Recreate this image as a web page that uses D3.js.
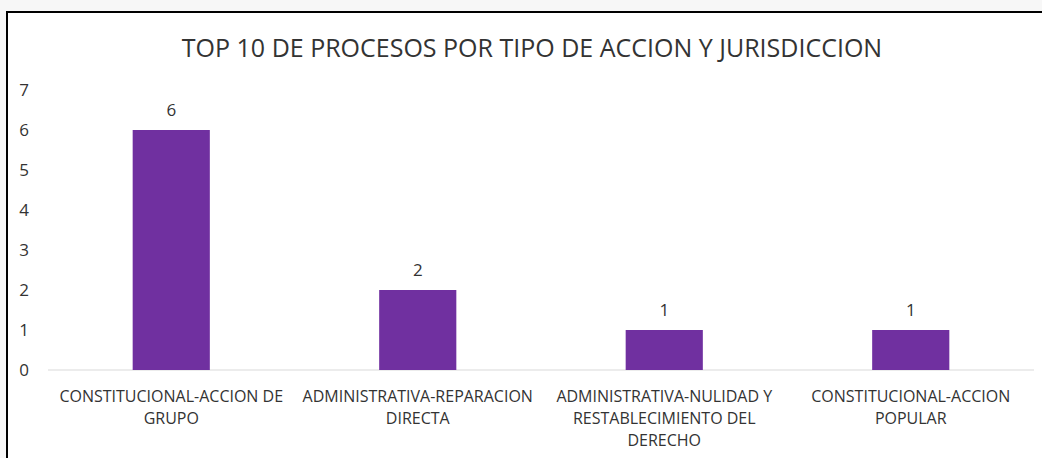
<!DOCTYPE html>
<html>
<head>
<meta charset="utf-8">
<script src="https://cdn.jsdelivr.net/npm/d3@7"></script>
<style>
body { margin: 0; background: #f7f7f7; }
svg { display: block; }
text { font-family: "Open Sans", sans-serif; fill: #333; }
</style>
</head>
<body>
<svg id="chart" width="1042" height="458"></svg>
<script>
const title = "TOP 10 DE PROCESOS POR TIPO DE ACCION Y JURISDICCION"
const categories = [
	"CONSTITUCIONAL-ACCION DE GRUPO",
	"ADMINISTRATIVA-REPARACION DIRECTA",
	"ADMINISTRATIVA-NULIDAD Y RESTABLECIMIENTO DEL DERECHO",
	"CONSTITUCIONAL-ACCION POPULAR"
]
const values = [6, 2, 1, 1]
const yTicks = [0, 1, 2, 3, 4, 5, 6, 7]

const W = 1042, H = 458
const svg = d3.select("#chart")

// white chart area with a dark frame on top and left
svg.append("rect").attr("x", 6).attr("y", 11).attr("width", W - 6).attr("height", H - 11).attr("fill", "#fff")
svg.append("path").attr("d", `M7,${H} V12 H${W}`).attr("fill", "none").attr("stroke", "#000").attr("stroke-width", 2)

const X = d3.scaleBand().domain(categories).range([48, 1034])
const Y = d3.scaleLinear().domain([0, 7]).range([370, 90])
const barW = X.bandwidth() * 0.313

svg.append("text")
	.attr("x", 532).attr("y", 57)
	.attr("text-anchor", "middle")
	.style("font-size", "25px")
	.text(title)

// y axis labels only, no line
const yAxis = svg.append("g").attr("transform", "translate(29,0)")
	.call(d3.axisLeft(Y).tickValues(yTicks).tickSize(0).tickPadding(0).tickFormat(d3.format("d")))
yAxis.select(".domain").remove()
yAxis.selectAll("text").style("font-size", "17px").attr("fill", "#333").attr("font-family", null)

svg.append("line")
	.attr("x1", 48).attr("x2", 1034)
	.attr("y1", Y(0)).attr("y2", Y(0))
	.attr("stroke", "#d9d9d9").attr("stroke-width", 1)

const bars = svg.append("g")
bars.selectAll("rect").data(values).enter().append("rect")
	.attr("x", (d, i) => X(categories[i]) + X.bandwidth() / 2 - barW / 2)
	.attr("y", d => Y(d))
	.attr("width", barW)
	.attr("height", d => Y(0) - Y(d))
	.attr("fill", "#7030a0")

bars.selectAll("text").data(values).enter().append("text")
	.attr("x", (d, i) => X(categories[i]) + X.bandwidth() / 2)
	.attr("y", d => Y(d) - 14)
	.attr("text-anchor", "middle")
	.style("font-size", "17px")
	.text(d => d)

// category labels, wrapped to the band width
const wrap = (sel, width) => {
	sel.each(function(d) {
		const t = d3.select(this)
		const words = d.split(" ")
		let line = []
		let ts = t.append("tspan").attr("x", t.attr("x")).attr("dy", 0)
		words.forEach(w => {
			line.push(w)
			ts.text(line.join(" "))
			if (ts.node().getComputedTextLength() > width && line.length > 1) {
				line.pop()
				ts.text(line.join(" "))
				line = [w]
				ts = t.append("tspan").attr("x", t.attr("x")).attr("dy", 22).text(w)
			}
		})
	})
}

svg.append("g").selectAll("text").data(categories).enter().append("text")
	.attr("x", d => X(d) + X.bandwidth() / 2)
	.attr("y", 402)
	.attr("text-anchor", "middle")
	.style("font-size", "16px")
	.call(wrap, 242)
</script>
</body>
</html>
